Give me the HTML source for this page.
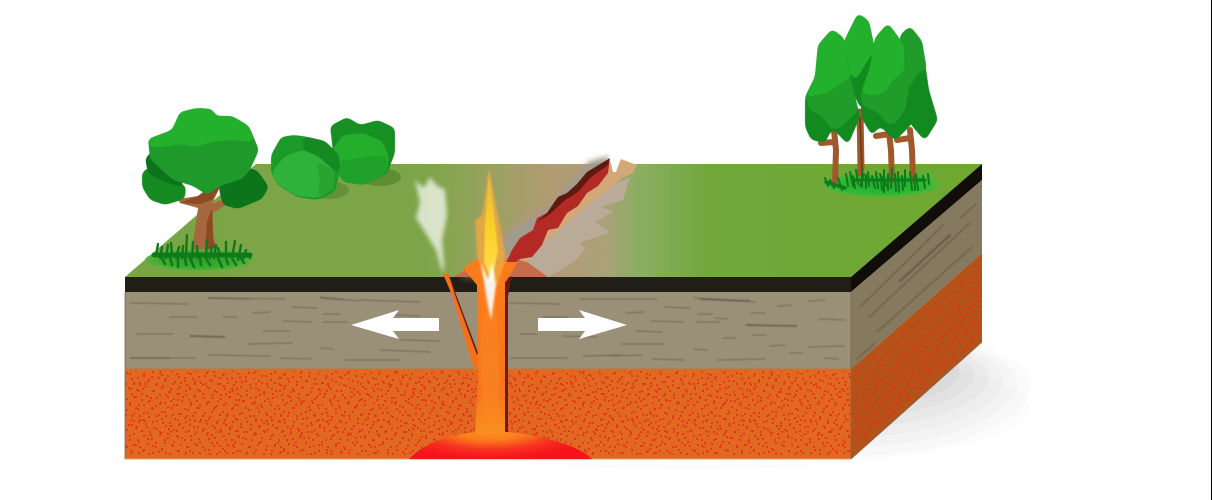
<!DOCTYPE html>
<html><head><meta charset="utf-8"><title>Divergent fault</title>
<style>html,body{margin:0;padding:0;background:#fff;width:1212px;height:500px;overflow:hidden}svg{display:block}.g polygon{filter:url(#goo)}</style></head>
<body>
<svg width="1212" height="500" viewBox="0 0 1212 500" xmlns="http://www.w3.org/2000/svg">
<defs>
<pattern id="pa" width="47" height="31" patternUnits="userSpaceOnUse"><path d="M3 2h.01M11 5h.01M19 1h.01M27 4h.01M36 2h.01M44 6h.01M7 10h.01M15 13h.01M24 9h.01M32 12h.01M40 11h.01M2 17h.01M12 19h.01M21 16h.01M29 20h.01M37 17h.01M45 19h.01M6 24h.01M16 26h.01M25 23h.01M33 27h.01M42 25h.01M9 29h.01M20 30h.01M30 29h.01M38 22h.01M46 13h.01M1 28h.01" stroke="#ea2a18" stroke-width="1.8" stroke-linecap="square"/></pattern>
<pattern id="pb" width="61" height="37" patternUnits="userSpaceOnUse"><path d="M5 3h.01M14 1h.01M22 6h.01M31 2h.01M40 5h.01M50 1h.01M57 7h.01M2 11h.01M10 9h.01M18 13h.01M27 10h.01M35 14h.01M44 9h.01M53 12h.01M7 18h.01M15 20h.01M24 17h.01M32 21h.01M41 16h.01M49 19h.01M58 17h.01M3 25h.01M12 27h.01M20 24h.01M29 28h.01M38 25h.01M46 27h.01M55 24h.01M8 33h.01M17 35h.01M26 32h.01M34 36h.01M43 33h.01M52 35h.01M60 31h.01M23 14h.01M47 22h.01M37 8h.01M12 14h.01M56 30h.01" stroke="#ea2a18" stroke-width="1.8" stroke-linecap="square"/></pattern>
<filter id="goo" x="-15%" y="-15%" width="130%" height="130%" color-interpolation-filters="sRGB">
<feGaussianBlur stdDeviation="3"/><feColorMatrix values="1 0 0 0 0 0 1 0 0 0 0 0 1 0 0 0 0 0 9 -4"/>
</filter>
<filter id="b04"><feGaussianBlur stdDeviation="0.4"/></filter>
<filter id="b1"><feGaussianBlur stdDeviation="1"/></filter>
<filter id="b2"><feGaussianBlur stdDeviation="2"/></filter>
<filter id="b3"><feGaussianBlur stdDeviation="4"/></filter>
<linearGradient id="gr" x1="125" x2="982" y1="0" y2="0" gradientUnits="userSpaceOnUse">
<stop offset="0" stop-color="#7aa544"/><stop offset=".35" stop-color="#7ca548"/><stop offset=".41" stop-color="#93a35c"/><stop offset=".5" stop-color="#b39b74"/><stop offset=".56" stop-color="#a9a27a"/><stop offset=".6" stop-color="#8bae62"/><stop offset=".68" stop-color="#71a83c"/><stop offset="1" stop-color="#6ea82e"/>
</linearGradient>
<radialGradient id="pool" cx="491" cy="428" r="100" gradientUnits="userSpaceOnUse" gradientTransform="translate(0 300) scale(1 .3)">
<stop offset="0" stop-color="#fb9a1c"/><stop offset=".4" stop-color="#fb7a1e"/><stop offset=".72" stop-color="#f6301f"/><stop offset="1" stop-color="#f5141c"/>
</radialGradient>
<linearGradient id="stem" x1="0" x2="0" y1="280" y2="440" gradientUnits="userSpaceOnUse">
<stop offset="0" stop-color="#fb7a1c"/><stop offset=".7" stop-color="#f8741e"/><stop offset="1" stop-color="#f8951e"/>
</linearGradient>
<linearGradient id="flame" x1="0" x2="0" y1="168" y2="290" gradientUnits="userSpaceOnUse">
<stop offset="0" stop-color="#e0b848"/><stop offset=".5" stop-color="#fbd028"/><stop offset="1" stop-color="#ffdf5a"/>
</linearGradient>
<radialGradient id="gl" cx=".5" cy=".5" r=".5"><stop offset="0" stop-color="#2ea02a"/><stop offset=".7" stop-color="#3bab30"/><stop offset="1" stop-color="#5fb040"/></radialGradient>
<radialGradient id="gr2" cx=".5" cy=".5" r=".5"><stop offset="0" stop-color="#20b02c"/><stop offset=".75" stop-color="#2eb834"/><stop offset="1" stop-color="#55b43c"/></radialGradient>
</defs>

<!-- ground shadow -->
<g fill="#000">
<ellipse cx="690" cy="408" rx="340" ry="62" opacity=".012"/>
<g transform="rotate(-5 880 395)">
<ellipse cx="880" cy="397" rx="152" ry="58" opacity=".015"/>
<ellipse cx="880" cy="394" rx="138" ry="52" opacity=".018"/>
<ellipse cx="880" cy="390" rx="124" ry="46" opacity=".02"/>
<ellipse cx="880" cy="386" rx="110" ry="40" opacity=".022"/>
<ellipse cx="880" cy="382" rx="96" ry="34" opacity=".025"/>
<ellipse cx="880" cy="378" rx="82" ry="28" opacity=".028"/>
<ellipse cx="880" cy="374" rx="70" ry="22" opacity=".03"/>
</g>
</g>

<!-- block -->
<polygon points="125,277 851,277 982,164 256,164" fill="url(#gr)"/>
<rect x="125" y="277" width="726" height="15" fill="#211d17"/>
<polygon points="851,277 982,164 982,180 851,292" fill="#110d09"/>
<rect x="125" y="292" width="726" height="77" fill="#9a9078"/>
<polygon points="851,292 982,180 982,253 851,369" fill="#85795f"/>
<rect x="125" y="369" width="726" height="90" fill="#e06820"/>
<polygon points="851,369 982,253 982,342 851,459" fill="#b4521a"/>
<rect x="125" y="371" width="726" height="84" fill="url(#pa)"/>
<rect x="125" y="371" width="726" height="84" fill="url(#pb)"/>
<polygon points="854,374 980,262 980,338 854,450" fill="url(#pb)"/>
<polygon points="854,400 980,290 980,338 854,450" fill="url(#pa)"/>
<path d="M125 292V459M851 292V459M851 459L982 342" stroke="#7a6a50" stroke-width=".8" fill="none"/>
<path d="M125 459H851" stroke="#e8a070" stroke-width="1"/>
<path d="M125 369H851" stroke="#b8783e" stroke-width="1"/>

<!-- strata lines front -->
<g filter="url(#b04)">
<g stroke="#5f5848" stroke-width="1.1" fill="none" stroke-linecap="round" opacity=".65">
<path d="M130 303L188 304M208 298L285 299M320 297L360 301M170 317L197 317M223 317L237 317M253 313L270 312M292 307L317 308M283 321L312 322M323 314L340 314M323 322L347 322M137 334L173 334M263 331L290 331M248 344L292 343M320 348L333 349M130 358L195 358M208 355L270 356M280 358L312 359M345 360L400 360M360 300L420 302M395 315L420 316M400 340L440 341M380 350L430 352"/>
<path d="M510 303L560 304M543 317L568 317M520 334L537 334M563 336L597 337M510 358L567 358M583 356L620 355M580 299L657 299M694 298L755 302M808 301L825 300M778 306L791 305M664 307L690 308M626 313L644 312M698 314L712 314M715 318L728 319M697 322L719 322M651 321L683 322M751 313L765 313M819 319L845 320M636 331L662 332M723 338L735 338M753 335L766 335M622 344L664 344M694 349L707 350M770 346L785 345M808 347L845 346M610 356L642 355M652 359L684 360M790 353L802 353M718 360L765 359M824 358L838 359"/>
</g>
<path d="M190 336L225 337M746 325L797 326M700 299L750 301" stroke="#5f5848" stroke-width="2" opacity=".7"/>
<path d="M130 358L170 358M208 298L250 299M320 298L345 300" stroke="#5f5848" stroke-width="1.6" opacity=".5"/>
<!-- strata lines side -->
<g stroke="#57503f" stroke-width="1" fill="none" opacity=".7" stroke-linecap="round">
<path d="M860 307L943 225M869 317L970 223M877 332L972 247M960 218L976 204M857 359L875 343"/>
<path d="M900 281L950 235" stroke-width="2"/>
</g>
</g>

<!-- rift skirt -->
<polygon points="460,277 480,258 505,232 520,215 545,205 565,185 590,162 608,158 600,180 540,245 510,262 500,277" fill="#b09a7a" opacity=".7" filter="url(#b3)"/>
<polygon points="590,162 610,156 596,178 565,205 535,236 508,258 502,240 520,224 548,208 565,188" fill="#9f9a92" opacity=".85" filter="url(#b2)"/>
<polygon points="630,178 623,200 601,207 613,212 595,222 610,232 580,243 585,248 578,258 565,268 548,277 525,262 545,235 580,200 610,185" fill="#b9ab98"/>
<polygon points="618,158 637,165 633,173 622,178 605,192 585,207 560,230 535,250 527,262 512,262 540,230 575,190 605,165" fill="#d2a878"/>
<polygon points="453,277 480,262 510,258 527,262 548,277" fill="#c46c4c"/>
<polygon points="610,158 604,164 587,172 577,184 567,193 558,197 547,213 537,218 533,230 520,238 512,250 502,272 520,259 532,257 542,245 548,230 558,228 567,213 578,206 587,193 598,186 608,173" fill="#b32a24"/>
<polygon points="610,158 587,172 577,184 567,193 558,197 547,213 537,222 550,214 565,200 578,192 590,178 608,165" fill="#5e1a10"/>
<polygon points="609,156 622,156 616,172 613,172" fill="#fff"/>

<!-- steam -->
<path d="M430 177L436 185L445 190L447 215L442 240L444 265L443 274L436 250L425 232L416 218L420 202L415 180L424 188Z" fill="#fff" opacity=".7" filter="url(#b2)"/>

<!-- dyke -->
<path d="M443 274L448 273L478 352L476 375L468 350L452 295Z" fill="#f4701c"/>
<path d="M448 273L478 353L477 355L456 298Z" fill="#5a1f10"/>

<!-- lava stem -->
<path d="M463 268L480 257L490 266L503 262L518 262L507 280L506 296L507 360L507 432L475 433L478 380L477 295L477 285Z" fill="url(#stem)"/>
<path d="M505 282L512 276L508 296L508 360L508 432L505 432L505 360Z" fill="#6a1c0c"/>
<path d="M484 295L494 295L500 360L498 430L484 430L480 360Z" fill="#fb8a24" opacity=".5" filter="url(#b1)"/>

<!-- magma pool -->
<path d="M409 459C425 442 455 433 480 432L507 432C545 436 580 446 592 459Z" fill="url(#pool)"/>

<!-- flame -->
<path d="M475 220L482 216L486 190L489 168L494 195L500 225L506 260L497 285L490 292L482 272L477 255Z" fill="#f0a840" opacity=".85" filter="url(#b1)"/>
<path d="M485 225L489 172L493 205L498 250L492 282L484 262Z" fill="url(#flame)" filter="url(#b04)"/>
<path d="M481 262L488 280L492 262L496 285L491 320L486 295Z" fill="#fff" opacity=".9" filter="url(#b1)"/>

<!-- arrows -->
<polygon points="351,325 399,310 393,318 439,318 439,331 393,331 399,339" fill="#fff"/>
<polygon points="627,325 579,310 585,318 538,318 538,331 585,331 579,339" fill="#fff"/>

<!-- bush shadows -->
<ellipse cx="380" cy="177" rx="21" ry="9" fill="#5f8d33"/>
<ellipse cx="327" cy="190" rx="22" ry="9" fill="#64913a"/>

<g class="g">
<!-- right bush -->
<polygon points="330,126 347,117 360,125 378,120 395,128 395,153 387,174 363,185 343,182 334,165 332,143" fill="#178f22"/>
<polygon points="332,150 343,135 363,133 382,141 389,156 386,174 363,185 343,182 334,166" fill="#24ae2c"/>
<polygon points="334,163 345,160 365,157 387,156 386,174 363,185 343,182" fill="#1fa02a"/>
<!-- left bush -->
<polygon points="271,155 281,137 293,135 303,136 325,141 339,155 340,172 335,192 317,200 297,197 278,185 271,173" fill="#1b9a28"/>
<polygon points="271,173 285,156 303,150 318,156 335,172 333,190 317,198 297,196 279,185" fill="#2fb23a"/>
<polygon points="303,136 325,141 339,155 340,175 318,156 303,150" fill="#158a22"/>
<polygon points="316,160 335,172 333,190 317,198 320,180" fill="#28a432"/>
</g>

<!-- left tree -->
<ellipse cx="199" cy="260" rx="54" ry="11" fill="url(#gl)"/>
<path d="M192 250L198 208L180 203L178 199L198 196L210 187L220 187L212 204L226 198L226 205L213 213L213 230L216 248Z" fill="#a5683c"/>
<path d="M205 250L207 222L212 208L213 240L216 248Z" fill="#8a4a22"/>
<path d="M198 196L210 187L220 187L212 200L200 204L180 203Z" fill="#8a4a22"/>
<g class="g">
<polygon points="142,172 150,167 175,180 186,186 185,199 165,205 150,200 142,187" fill="#148a20"/>
<polygon points="220,180 242,167 257,170 269,187 262,199 238,209 223,205 219,190" fill="#0c741a"/>
<polygon points="145,158 155,149 178,175 186,188 170,184 148,174" fill="#0c741a"/>
<polygon points="148,139 172,130 180,112 197,108 212,109 216,116 232,116 249,126 259,150 250,170 242,179 220,186 207,195 193,186 173,180 150,159" fill="#1f9a2a"/>
<polygon points="148,139 172,130 180,112 197,108 212,109 216,116 232,116 249,126 254,142 230,140 212,142 195,147 180,144 165,147 148,147" fill="#23b02c"/>
</g>
<g stroke="#0f7a1a" stroke-width="2.4" stroke-linecap="round" fill="none">
<path d="M156 256L158 244M160 258L162 247M166 258L168 245M172 256L171 243M176 258L179 247M182 258L183 246M186 254L187 235M192 258L193 242M198 258L197 246M206 254L207 240M210 258L212 246M214 258L216 245M220 256L218 248M226 258L226 242M232 258L235 241M238 260L241 245M244 258L246 250M250 258L249 254"/>
<path d="M154 255H250" stroke-width="5"/>
<path d="M162 258L165 264M170 258L172 265M178 258L178 267M185 258L186 265M190 258L194 267M200 258L201 265M206 258L210 265M218 258L222 267M226 258L228 264M232 258L236 265M241 258L244 263" stroke-width="2.6"/>
</g>

<!-- right grass -->
<path d="M824 181C826 178 834 178 850 176L905 176L930 172L940 186C930 195 900 198 875 197C850 197 830 194 824 186Z" fill="url(#gr2)"/>

<!-- right trees trunks -->
<g fill="none" stroke-linecap="round" stroke-linejoin="round">
<path d="M860 112L861 168L860 173" stroke="#a0592c" stroke-width="7"/>
<path d="M834 130L836 150L835 183M834 142L821 143" stroke="#a0592c" stroke-width="6"/>
<path d="M888 125L891 150L892 180M889 134L876 136" stroke="#a0592c" stroke-width="6"/>
<path d="M910 130L912 150L913 180M910 138L897 140" stroke="#a0592c" stroke-width="6"/>
<path d="M860 118L862 172" stroke="#7a3a18" stroke-width="2"/>
</g>

<!-- right trees -->
<g class="g">
<polygon points="910,26 900,35 901,77 911,125 925,141 938,120 929,90 922,41" fill="#128a20"/>
<polygon points="910,26 900,35 901,77 908,90 919,72 927,70 922,41" fill="#1f9c2a"/>
<polygon points="858,13 844,41 846,77 862,112 872,77 875,50 869,21" fill="#128a20"/>
<polygon points="858,13 844,41 846,70 856,80 868,60 875,50 869,21" fill="#23b02c"/>
<polygon points="832,29 844,38 847,60 852,83 860,117 848,145 838,134 832,129 825,143 811,140 805,127 805,97 815,77 818,45" fill="#128a20"/>
<polygon points="832,29 844,38 847,60 852,83 858,112 848,120 840,128 832,130 826,122 822,116 810,110 805,97 815,77 818,45" fill="#1f9c2a"/>
<polygon points="832,29 844,38 847,60 851,78 838,85 828,92 818,95 805,97 815,77 818,45" fill="#23b02c"/>
<polygon points="888,23 875,38 870,67 861,93 861,117 872,136 880,126 895,141 909,127 915,120 909,90 904,45" fill="#128a20"/>
<polygon points="888,23 875,38 870,67 861,93 862,106 877,112 889,125 897,122 905,110 909,90 904,45" fill="#1f9c2a"/>
<polygon points="888,23 875,38 870,67 861,93 875,96 885,92 895,78 904,72 904,45" fill="#23b02c"/>
</g>

<!-- right grass blades -->
<g stroke="#0f7a1a" stroke-width="2" stroke-linecap="round" fill="none">
<path d="M825 178L828 186M830 180L834 188M838 178L842 190M846 174L848 186M850 172L853 186M853 176L855 188M856 170L858 184M862 171L862 187M866 175L866 188M868 172L869 186M872 176L875 188M876 172L878 188M881 176L882 190M884 170L884 192M888 174L888 190M892 168L891 188M895 174L896 191M898 172L899 192M902 176L903 190M905 170L905 186M910 172L912 190M914 176L915 190M916 174L918 190M923 176L925 188M928 174L929 184M864 174L860 186M880 174L888 188"/>
<path d="M826 182L845 188" stroke-width="3.5"/>
<path d="M852 180H925" stroke-width="3"/>
</g>

<!-- right border -->
<rect x="1211" y="0" width="1" height="500" fill="#000"/>
</svg>
</body></html>
